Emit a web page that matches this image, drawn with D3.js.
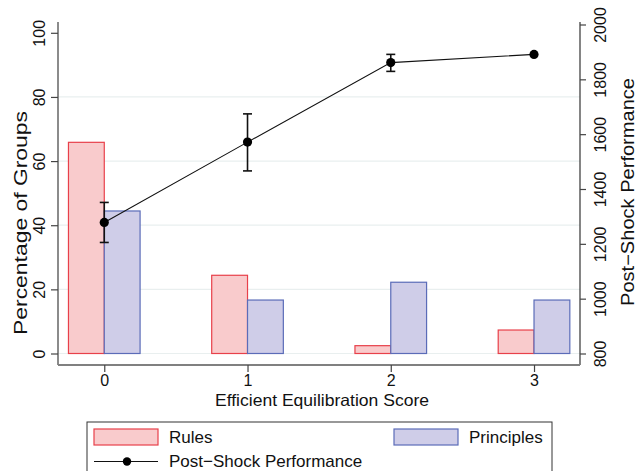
<!DOCTYPE html>
<html>
<head>
<meta charset="utf-8">
<script src="https://cdn.jsdelivr.net/npm/d3@7"></script>
<style>
  html, body { margin: 0; padding: 0; background: #fff; }
  svg { display: block; font-family: "Liberation Sans", Arial, sans-serif; }
</style>
</head>
<body>
<svg id="chart" width="640" height="471"></svg>
<script>
// ---- data ----
const categories = [0, 1, 2, 3];
const rulesPct = [65.85, 24.39, 2.44, 7.32];
const principlesPct = [44.44, 16.67, 22.22, 16.67];
const perfMean = [1278, 1571, 1861, 1891];
const perfLow = [1205, 1466, 1829, null];
const perfHigh = [1351, 1674, 1891, null];
const leftTicks = [0, 20, 40, 60, 80, 100];
const gridTicks = [0, 20, 40, 60, 80];
const rightTicks = [800, 1000, 1200, 1400, 1600, 1800, 2000];
const xLabel = "Efficient Equilibration Score";
const yLeftLabel = "Percentage of Groups";
const yRightLabel = "Post\u2212Shock Performance";
const seriesNames = ["Rules", "Principles", "Post\u2212Shock Performance"];

// ---- layout ----
const L = 58, R = 580, T = 22, B = 365;
const svg = d3.select("#chart");

const x = d3.scaleLinear().domain([-0.323, 3.321]).range([L, R]);
const yL = d3.scaleLinear().domain([0, 100]).range([353.5, 32.8]);
const yR = d3.scaleLinear().domain([800, 2000]).range([353.5, 24.5]);
const barW = 0.25;

const rulesFill = "#f9cbcc", rulesStroke = "#e8404a";
const prinFill = "#cfcde8", prinStroke = "#5b6cb8";

// gridlines
svg.append("g").selectAll("line").data(gridTicks).join("line")
  .attr("x1", L).attr("x2", R)
  .attr("y1", d => yL(d)).attr("y2", d => yL(d))
  .attr("stroke", "#e9efef").attr("stroke-width", 1.2);

// bars
const bars = svg.append("g");
bars.selectAll("rect.rules").data(categories).join("rect")
  .attr("class", "rules")
  .attr("x", (d) => x(d - barW)).attr("width", x(barW) - x(0))
  .attr("y", (d, i) => yL(rulesPct[i])).attr("height", (d, i) => yL(0) - yL(rulesPct[i]))
  .attr("fill", rulesFill).attr("stroke", rulesStroke).attr("stroke-width", 1.2);
bars.selectAll("rect.prin").data(categories).join("rect")
  .attr("class", "prin")
  .attr("x", (d) => x(d)).attr("width", x(barW) - x(0))
  .attr("y", (d, i) => yL(principlesPct[i])).attr("height", (d, i) => yL(0) - yL(principlesPct[i]))
  .attr("fill", prinFill).attr("stroke", prinStroke).attr("stroke-width", 1.2);

// line
const lineGen = d3.line().x((d, i) => x(categories[i])).y(d => yR(d));
svg.append("path").datum(perfMean).attr("d", lineGen)
  .attr("fill", "none").attr("stroke", "#111").attr("stroke-width", 1.1);

// error bars
const eb = svg.append("g").attr("stroke", "#111").attr("stroke-width", 1.6);
categories.forEach((c, i) => {
  if (perfLow[i] == null) return;
  const cx = x(c);
  eb.append("line").attr("x1", cx).attr("x2", cx).attr("y1", yR(perfLow[i])).attr("y2", yR(perfHigh[i]));
  eb.append("line").attr("x1", cx - 4.5).attr("x2", cx + 4.5).attr("y1", yR(perfLow[i])).attr("y2", yR(perfLow[i]));
  eb.append("line").attr("x1", cx - 4.5).attr("x2", cx + 4.5).attr("y1", yR(perfHigh[i])).attr("y2", yR(perfHigh[i]));
});

// markers
svg.append("g").selectAll("circle").data(perfMean).join("circle")
  .attr("cx", (d, i) => x(categories[i])).attr("cy", d => yR(d)).attr("r", 4.6)
  .attr("fill", "#000");

// axes lines
svg.append("line").attr("x1", L).attr("x2", L).attr("y1", T).attr("y2", B)
  .attr("stroke", "#6e6e6e").attr("stroke-width", 1.6);
svg.append("line").attr("x1", R).attr("x2", R).attr("y1", T).attr("y2", B)
  .attr("stroke", "#333").attr("stroke-width", 1.2);
svg.append("line").attr("x1", L).attr("x2", R).attr("y1", B).attr("y2", B)
  .attr("stroke", "#808080").attr("stroke-width", 2);

// left axis
const gL = svg.append("g").attr("transform", `translate(${L},0)`)
  .call(d3.axisLeft(yL).tickValues(leftTicks).tickFormat(d3.format("d")).tickSize(7));
gL.select(".domain").remove();
gL.selectAll(".tick line").attr("stroke", "#444").attr("stroke-width", 1.2);
gL.selectAll(".tick text")
  .attr("transform", "rotate(-90)")
  .attr("x", 0).attr("y", -13).attr("dy", 0)
  .attr("text-anchor", "middle")
  .style("font-size", "16px").attr("fill", "#111");

// right axis
const gR = svg.append("g").attr("transform", `translate(${R},0)`)
  .call(d3.axisRight(yR).tickValues(rightTicks).tickFormat(d3.format("d")).tickSize(6));
gR.select(".domain").remove();
gR.selectAll(".tick line").attr("stroke", "#444").attr("stroke-width", 1.2);
gR.selectAll(".tick text")
  .attr("transform", "rotate(-90)")
  .attr("x", 0).attr("y", 26).attr("dy", 0)
  .attr("text-anchor", "middle")
  .style("font-size", "16px").attr("fill", "#111");

// x axis
const gX = svg.append("g").attr("transform", `translate(0,${B})`)
  .call(d3.axisBottom(x).tickValues(categories).tickFormat(d3.format("d")).tickSize(7));
gX.select(".domain").remove();
gX.selectAll(".tick line").attr("stroke", "#444").attr("stroke-width", 1.2);
gX.selectAll(".tick text").attr("y", 21).attr("dy", 0)
  .style("font-size", "16px").attr("fill", "#111");

// titles
svg.append("text").attr("x", 322).attr("y", 406).attr("text-anchor", "middle")
  .attr("textLength", 214).attr("lengthAdjust", "spacingAndGlyphs")
  .style("font-size", "16.5px").attr("fill", "#111").text(xLabel);
svg.append("text").attr("transform", "translate(27,223) rotate(-90)").attr("text-anchor", "middle")
  .attr("textLength", 224).attr("lengthAdjust", "spacingAndGlyphs")
  .style("font-size", "18px").attr("fill", "#111").text(yLeftLabel);
svg.append("text").attr("transform", "translate(634,192) rotate(-90)").attr("text-anchor", "middle")
  .attr("textLength", 228).attr("lengthAdjust", "spacingAndGlyphs")
  .style("font-size", "18px").attr("fill", "#111").text(yRightLabel);

// legend
const lg = svg.append("g");
lg.append("rect").attr("x", 87).attr("y", 422).attr("width", 465).attr("height", 70)
  .attr("fill", "#fff").attr("stroke", "#333").attr("stroke-width", 1);
lg.append("rect").attr("x", 94).attr("y", 429).attr("width", 64).attr("height", 16)
  .attr("fill", rulesFill).attr("stroke", rulesStroke).attr("stroke-width", 1.2);
lg.append("text").attr("x", 169).attr("y", 443).style("font-size", "17px").attr("fill", "#111").text(seriesNames[0]);
lg.append("rect").attr("x", 394).attr("y", 429).attr("width", 64).attr("height", 16)
  .attr("fill", prinFill).attr("stroke", prinStroke).attr("stroke-width", 1.2);
lg.append("text").attr("x", 469).attr("y", 443).style("font-size", "17px").attr("fill", "#111").text(seriesNames[1]);
lg.append("line").attr("x1", 94).attr("x2", 158).attr("y1", 461.5).attr("y2", 461.5)
  .attr("stroke", "#111").attr("stroke-width", 1.1);
lg.append("circle").attr("cx", 127).attr("cy", 461.5).attr("r", 4.2).attr("fill", "#000");
lg.append("text").attr("x", 169).attr("y", 467).style("font-size", "17px").attr("fill", "#111").text(seriesNames[2]);
</script>
</body>
</html>
